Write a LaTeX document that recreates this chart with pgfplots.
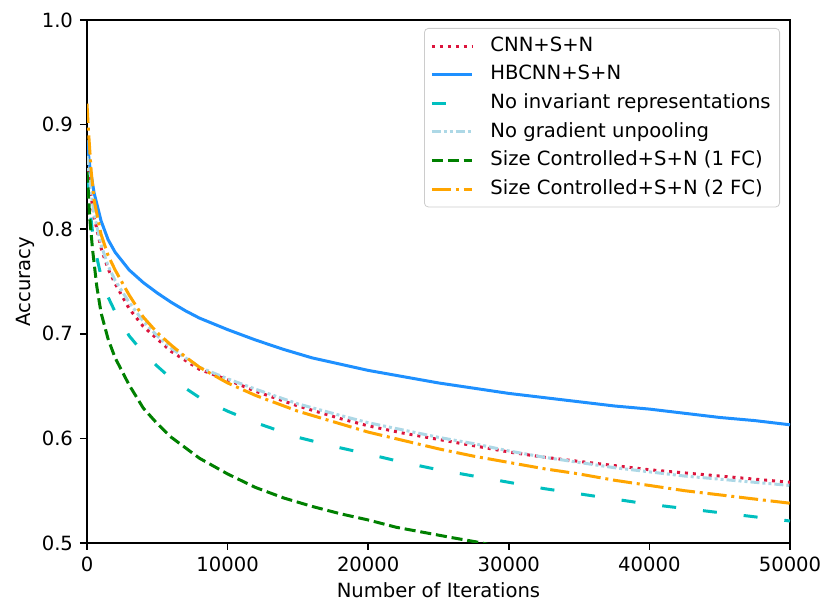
\documentclass[border=0pt]{standalone}
\usepackage{pgfplots}
\pgfplotsset{compat=1.18}
\usepackage{fontspec}
\setmainfont{DejaVu Sans}
\definecolor{crimson}{HTML}{DC143C}
\definecolor{dodger}{HTML}{1E90FF}
\definecolor{mplc}{HTML}{00BFBF}
\definecolor{lblue}{HTML}{ADD8E6}
\definecolor{mplgreen}{HTML}{008000}
\definecolor{mplorange}{HTML}{FFA500}
\newcommand{\fs}{\fontsize{9.8bp}{11bp}\selectfont}
\begin{document}
\begin{tikzpicture}
\begin{axis}[
  name=ax,
  scale only axis,
  width=351.5bp, height=261.5bp,
  xmin=0, xmax=50000, ymin=0.5, ymax=1.0,
  xtick={0,10000,20000,30000,40000,50000},
  ytick={0.5,0.6,0.7,0.8,0.9,1.0},
  scaled x ticks=false,
  xticklabel style={/pgf/number format/1000 sep={}},
  yticklabel style={/pgf/number format/.cd,fixed,fixed zerofill,precision=1},
  /pgf/number format/assume math mode=true,
  ticklabel style={font=\fs},
  tick pos=left,
  tick align=outside,
  major tick length=3.5bp,
  every tick/.style={black, line width=0.8bp},
  axis line style={line width=0.8bp},
  xlabel={Number of Iterations},
  ylabel={Accuracy},
  label style={font=\fs},
  xlabel style={at={(axis description cs:0.5,-0.09)}, anchor=center},
  ylabel style={at={(axis description cs:-0.088,0.5)}, anchor=center},
  clip=true,
  legend cell align=left,
  legend image code/.code={\draw[#1] (0bp,0bp) -- (20bp,0bp);},
  legend style={at={(0.9858,0.9847)}, anchor=north east, draw=black!20,
    rounded corners=2bp, font=\fs, inner xsep=3bp, inner ysep=2.5bp,
    row sep=1.5bp,
    /tikz/every odd column/.append style={column sep=7bp},
    nodes={inner sep=1.5bp, text height=7.5bp, text depth=2.3bp}},
  every axis plot/.append style={line width=1.5bp, line join=round},
]
\addplot[crimson, dash pattern=on 1.5bp off 2.475bp] coordinates {
(0,0.865) (200,0.84) (500,0.812) (1000,0.782) (1500,0.762) (2000,0.748)
(3000,0.724) (4000,0.707) (5000,0.695) (6000,0.683) (8000,0.666) (10000,0.656)
(12000,0.645) (15000,0.631) (18000,0.619) (20000,0.612) (22500,0.605)
(25000,0.599) (27500,0.593) (30000,0.587) (32500,0.582) (35000,0.578)
(37500,0.574) (40000,0.570) (42500,0.567) (45000,0.564) (47500,0.561) (50000,0.558)};
\addlegendentry{CNN+S+N}
\addplot[dodger, solid] coordinates {
(0,0.885) (200,0.86) (500,0.835) (1000,0.808) (1500,0.79) (2000,0.778)
(3000,0.761) (4000,0.749) (5000,0.739) (6000,0.730) (7000,0.722) (8000,0.715)
(10000,0.704) (12000,0.694) (14000,0.685) (16000,0.677) (18000,0.671)
(20000,0.665) (22500,0.659) (25000,0.653) (27500,0.648) (30000,0.643)
(32500,0.639) (35000,0.635) (37500,0.631) (40000,0.628) (42500,0.624)
(45000,0.620) (47500,0.617) (50000,0.613)};
\addlegendentry{HBCNN+S+N}
\addplot[mplc, dash pattern=on 7bp off 13.5bp] coordinates {
(0,0.85) (200,0.82) (500,0.785) (1000,0.755) (1500,0.735) (2000,0.721)
(3000,0.698) (4000,0.682) (5000,0.669) (6000,0.657) (8000,0.639) (10000,0.626)
(12000,0.615) (15000,0.601) (18000,0.591) (20000,0.585) (22500,0.577)
(25000,0.570) (27500,0.564) (30000,0.558) (32500,0.552) (35000,0.547)
(37500,0.542) (40000,0.537) (42500,0.533) (45000,0.529) (47500,0.525) (50000,0.521)};
\addlegendentry{No invariant representations}
\addplot[lblue, dash pattern=on 4.5bp off 1.5bp on 1.5bp off 1.5bp on 1.5bp off 1.5bp] coordinates {
(0,0.87) (200,0.845) (500,0.815) (1000,0.785) (1500,0.765) (2000,0.751)
(3000,0.73) (4000,0.712) (5000,0.698) (6000,0.686) (8000,0.668) (10000,0.657)
(12000,0.647) (15000,0.633) (18000,0.622) (20000,0.615) (22500,0.608)
(25000,0.601) (27500,0.595) (30000,0.588) (32500,0.582) (35000,0.577)
(37500,0.572) (40000,0.568) (42500,0.564) (45000,0.561) (47500,0.558) (50000,0.555)};
\addlegendentry{No gradient unpooling}
\addplot[mplgreen, dash pattern=on 5.55bp off 2.4bp] coordinates {
(0,0.855) (100,0.835) (200,0.81) (400,0.78) (700,0.745) (1000,0.72)
(1500,0.695) (2000,0.677) (3000,0.651) (4000,0.629) (5000,0.614) (6000,0.601)
(8000,0.581) (10000,0.566) (12000,0.553) (14000,0.543) (16000,0.535)
(18000,0.528) (20000,0.522) (22000,0.515) (24000,0.510) (26000,0.505)
(28000,0.5003) (29000,0.497)};
\addlegendentry{Size Controlled+S+N (1 FC)}
\addplot[mplorange, dash pattern=on 9.6bp off 2.4bp on 1.5bp off 2.4bp] coordinates {
(0,0.92) (100,0.895) (300,0.855) (500,0.828) (1000,0.795) (1500,0.775)
(2000,0.761) (3000,0.737) (4000,0.716) (5000,0.701) (6000,0.689) (7000,0.678)
(8000,0.668) (10000,0.653) (12000,0.641) (15000,0.626) (18000,0.614)
(20000,0.606) (22500,0.598) (25000,0.590) (27500,0.583) (30000,0.577)
(32500,0.571) (35000,0.566) (37500,0.560) (40000,0.555) (42500,0.550)
(45000,0.546) (47500,0.542) (50000,0.538)};
\addlegendentry{Size Controlled+S+N (2 FC)}
\end{axis}
\path (ax.south west) ++(-43.5bp,-29.5bp) coordinate (bbA);
\path (ax.north east) ++(15bp,10bp) coordinate (bbB);
\pgfresetboundingbox
\path (bbA) rectangle (bbB);
\end{tikzpicture}
\end{document}
